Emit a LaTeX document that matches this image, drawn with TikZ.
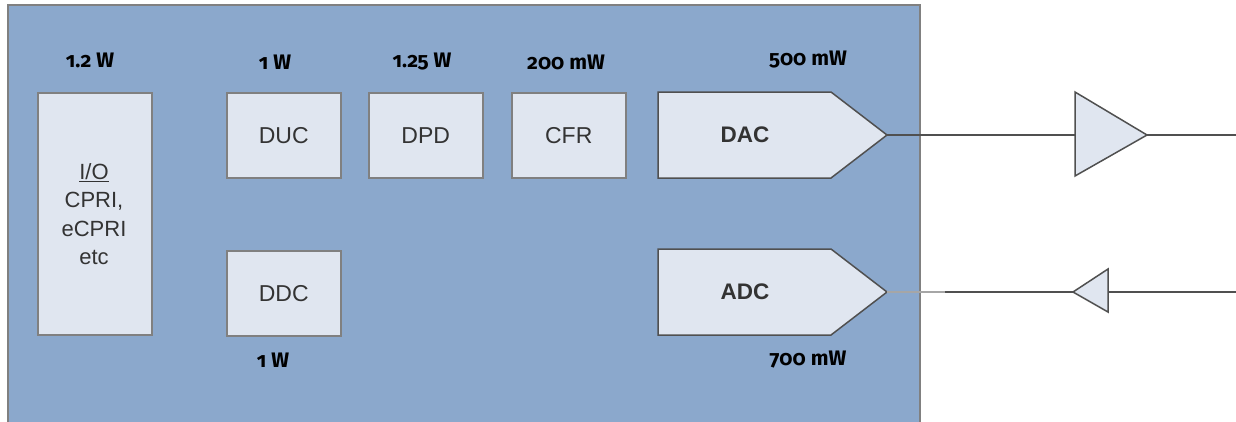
\documentclass[tikz,border=0pt]{standalone}
\usepackage{fontspec}
\setmainfont{Liberation Sans}
\newfontfamily\lblfont[Numbers=OldStyle]{Fira Sans}
\definecolor{bgblue}{RGB}{139,168,204}
\definecolor{boxfill}{RGB}{224,230,240}
\definecolor{boxline}{RGB}{128,128,128}
\definecolor{darkline}{RGB}{80,80,80}
\definecolor{txtgray}{RGB}{51,51,51}
\begin{document}
\begin{tikzpicture}[x=1pt,y=-1pt,
  blk/.style={draw=boxline,line width=1.5pt,fill=boxfill,text=txtgray,font=\fontsize{23}{28}\selectfont,align=center},
  pwr/.style={font=\lblfont\bfseries\fontsize{21}{24}\selectfont,text=black},
  conv/.style={draw=darkline,line width=1.5pt,fill=boxfill},
  wire/.style={draw=darkline,line width=2pt}]
\useasboundingbox (0,0) rectangle (1236,421);
\fill[bgblue] (8,5) rectangle (920,425);
\draw[boxline,line width=1.5pt] (8,425) -- (8,5) -- (920,5) -- (920,425);
% blocks
\node[blk,minimum width=114pt,minimum height=242pt,anchor=north west,inner sep=0pt] (io) at (37,92) {};
\node[text=txtgray,font=\fontsize{22}{28.5}\selectfont,align=center] (iotxt) at (94,214) {\underline{I/O}\\CPRI,\\eCPRI\\etc};
\node[blk,minimum width=114pt,minimum height=85pt,anchor=north west] (duc) at (226,92) {DUC};
\node[blk,minimum width=114pt,minimum height=85pt,anchor=north west] (ddc) at (226,250) {DDC};
\node[blk,minimum width=114pt,minimum height=85pt,anchor=north west] (dpd) at (368,92) {DPD};
\node[blk,minimum width=114pt,minimum height=85pt,anchor=north west] (cfr) at (511,92) {CFR};
% converters
\draw[conv] (658,92) -- (831,92) -- (887,135) coordinate (dactip) -- (831,178) -- (658,178) -- cycle;
\node[font=\bfseries\fontsize{22.5}{26}\selectfont,text=txtgray] (dac) at (745,135) {DAC};
\draw[conv] (658,249) -- (831,249) -- (887,292) coordinate (adctip) -- (831,335) -- (658,335) -- cycle;
\node[font=\bfseries\fontsize{22.5}{26}\selectfont,text=txtgray] (adc) at (745,292) {ADC};
% power labels
\node[pwr] (p1) at (90,60) {1.2 W};
\node[pwr] (p2) at (275,62) {1 W};
\node[pwr] (p3) at (422,62) {1.25 W};
\node[pwr] (p4) at (566,62) {200 mW};
\node[pwr] (p5) at (808,60) {500 mW};
\node[pwr] (p6) at (273,360) {1 W};
\node[pwr] (p7) at (808,360) {700 mW};
% amplifiers
\draw[conv] (1075,92) coordinate (ampa) -- (1147,135) coordinate (amptip) -- (1075,176) -- cycle;
\coordinate (ampin) at (1075,135);
\coordinate (txout) at (1236,135);
\draw[conv] (1108,269) -- (1073,292) coordinate (lnatip) -- (1108,312) -- cycle;
\coordinate (lnain) at (1108,292);
\coordinate (rxin) at (1236,292);
\coordinate (rxbreak) at (945,292);
% wires
\draw[wire] (dactip) -- (ampin);
\draw[wire] (amptip) -- (txout);
\draw[wire] (rxin) -- (lnain);
\draw[wire] (lnatip) -- (rxbreak);
\draw[line width=1.5pt,draw=boxline!70] (rxbreak) -- (adctip);
\end{tikzpicture}
\end{document}
